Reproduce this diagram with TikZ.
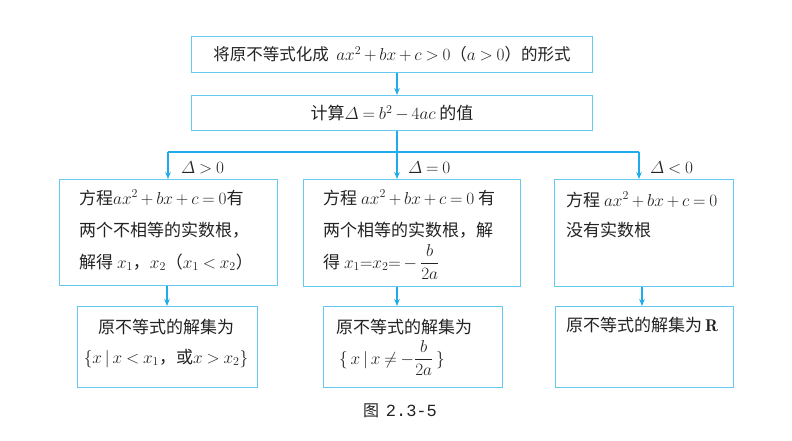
\documentclass[tikz,border=0pt]{standalone}
\usepackage{amsmath}
\usepackage{fontspec}
\newfontfamily\cjk{Noto Sans CJK SC}
\newfontfamily\capmono{Liberation Mono}
\usetikzlibrary{arrows.meta}
\definecolor{boxblue}{RGB}{100,200,240}
\definecolor{arrblue}{RGB}{30,172,235}
\definecolor{ink}{RGB}{35,35,35}
\tikzset{
  box/.style={draw=boxblue, line width=1.1pt, rectangle, inner sep=0pt, anchor=north west},
  txt/.style={text=ink, font=\cjk\fontsize{17}{32}\selectfont, inner sep=0pt},
  lbl/.style={text=ink, font=\fontsize{16.5}{20}\selectfont, inner sep=0pt, anchor=base west},
  arr/.style={draw=arrblue, line width=1.1pt, -{Stealth[length=7pt,width=5.5pt]}},
  ln/.style={draw=arrblue, line width=1.1pt},
}
\medmuskip=3mu plus 2mu minus 3mu
\thickmuskip=4mu plus 3mu
\begin{document}
\begin{tikzpicture}[x=1pt,y=-1pt]
\fill[white] (0,0) rectangle (792,440);
\useasboundingbox (0,0) rectangle (792,440);

% top boxes
\node[box, txt, font=\cjk\fontsize{16.5}{32}\selectfont, minimum width=401pt, minimum height=36pt] (top) at (191,36)
  {将原不等式化成\ \ $ax^2+bx+c>0$（$a>0$）的形式};
\node[box, txt, minimum width=401pt, minimum height=35pt] (disc) at (191,95)
  {计算$\varDelta=b^2-4ac$\ 的值};

% middle boxes
\node[box, minimum width=218pt, minimum height=106pt] (uL) at (59,179) {};
\node[box, minimum width=217pt, minimum height=107pt] (uM) at (303,179) {};
\node[box, minimum width=179pt, minimum height=107pt] (uR) at (554,179) {};

% bottom boxes
\node[box, minimum width=180pt, minimum height=81pt] (dL) at (77,306) {};
\node[box, minimum width=179pt, minimum height=81pt] (dM) at (323,306) {};
\node[box, minimum width=178pt, minimum height=81pt] (dR) at (555,306) {};

% texts in middle boxes
\node[txt, anchor=base west] (uL1) at (79,204) {方程$ax^2+bx+c=0$有};
\node[txt, anchor=base west] (uL2) at (79,236) {两个不相等的实数根，};
\node[txt, anchor=base west] (uL3) at (79,268) {解得 $x_1$，$x_2$（$x_1<x_2$）};

\node[txt, anchor=base west] (uM1) at (323,204) {方程 $ax^2+bx+c=0$ 有};
\node[txt, anchor=base west] (uM2) at (323,236) {两个相等的实数根，解};
\node[txt, anchor=base west] (uM3) at (323,268) {得 $x_1{=}x_2{=}-\dfrac{b}{2a}$};

\node[txt, anchor=base west] (uR1) at (566,206) {方程 $ax^2+bx+c=0$};
\node[txt, anchor=base west] (uR2) at (566,236) {没有实数根};

% texts in bottom boxes
\node[txt, anchor=base] (dL1) at (166,333) {原不等式的解集为};
\node[txt, anchor=base] (dL2) at (166,363) {$\{x\,|\,x<x_1$，或$x>x_2\}$};
\node[txt, anchor=base west] (dM1) at (336,333) {原不等式的解集为};
\node[txt, anchor=base west] (dM2) at (339,364) {$\{\,x\,|\,x\neq-\dfrac{b}{2a}\,\}$};
\node[txt, anchor=base west] (dR1) at (566,331) {原不等式的解集为\,$\mathbf{R}$};

% branch labels
\node[lbl] (gL) at (181,173) {$\varDelta>0$};
\node[lbl] (gM) at (408,173) {$\varDelta=0$};
\node[lbl] (gR) at (650,173) {$\varDelta<0$};

% connectors
\coordinate (jL) at (168,152);
\coordinate (jM) at (397,152);
\coordinate (jR) at (639,152);
\coordinate (kL) at (167,296);
\coordinate (kM) at (397,296);
\coordinate (kR) at (642,296);

\draw[arr] (top.south -| jM) -- (disc.north -| jM);
\draw[ln] (disc.south -| jM) -- (jM);
\draw[ln] (jL) -- (jR);
\draw[arr] (jL) -- (uL.north -| jL);
\draw[arr] (jM) -- (uM.north -| jM);
\draw[arr] (jR) -- (uR.north -| jR);
\draw[arr] (uL.south -| kL) -- (dL.north -| kL);
\draw[arr] (uM.south -| kM) -- (dM.north -| kM);
\draw[arr] (uR.south -| kR) -- (dR.north -| kR);

% caption
\node[text=ink, inner sep=0pt, anchor=base west] (cap) at (363,416)
  {{\cjk\fontsize{16}{20}\selectfont 图}\ \ {\capmono\fontsize{17}{20}\selectfont 2.3-5}};
\end{tikzpicture}
\end{document}
